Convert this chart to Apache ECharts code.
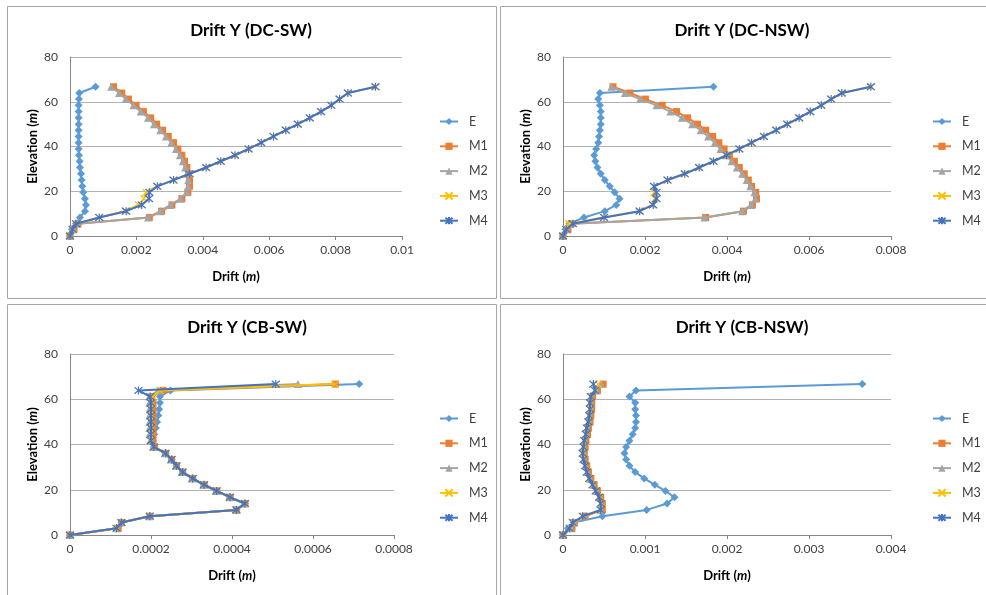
<!DOCTYPE html>
<html>
<head>
<meta charset="utf-8">
<style>
    html, body { margin: 0; padding: 0; background: #fff; }
    #echarts { width: 986px; height: 595px; }
</style>
</head>
<body>
<div id="echarts"></div>
<script src="https://cdn.jsdelivr.net/npm/echarts@6/dist/echarts.min.js"></script>
<script>
    // 楼层标高 (m)
    const elevation = [0, 3, 5.5, 8.3, 11.1, 13.9, 16.7, 19.5, 22.2, 25, 27.8, 30.6, 33.4, 36.1, 38.9, 41.7, 44.5, 47.3, 50, 52.8, 55.6, 58.4, 61.2, 63.9, 66.7];
    const seriesNames = ['E', 'M1', 'M2', 'M3', 'M4'];
    const panelTitles = ['Drift Y (DC-SW)', 'Drift Y (DC-NSW)', 'Drift Y (CB-SW)', 'Drift Y (CB-NSW)'];
    const xMax = [0.01, 0.008, 0.0008, 0.004];
    const xStep = [0.002, 0.002, 0.0002, 0.001];
    const yTicks = [0, 20, 40, 60, 80];

    // DC-SW
    const dcSwE  = [0, 0.00006, 0.00018, 0.0003, 0.00045, 0.00048, 0.00045, 0.0004, 0.00037, 0.00035, 0.00033, 0.0003, 0.00029, 0.00027, 0.00026, 0.00026, 0.00026, 0.00026, 0.00026, 0.00026, 0.00026, 0.00026, 0.00027, 0.00028, 0.00077];
    const dcSwM1 = [0, 0.00012, 0.00024, 0.00239, 0.00276, 0.00307, 0.00337, 0.00355, 0.0036, 0.0036, 0.00357, 0.00352, 0.00345, 0.00337, 0.00325, 0.00312, 0.00296, 0.00279, 0.00261, 0.00243, 0.00221, 0.00199, 0.00176, 0.00156, 0.00131];
    const dcSwM2 = [0, 0.0001, 0.00022, 0.00235, 0.00272, 0.00303, 0.00333, 0.00351, 0.00356, 0.00356, 0.00353, 0.00347, 0.0034, 0.00331, 0.00319, 0.00305, 0.00289, 0.00272, 0.00253, 0.00235, 0.00213, 0.00191, 0.00168, 0.00148, 0.00124];
    const dcSwM3 = [0, 0.00008, 0.00018, 0.00088, 0.00166, 0.00206, 0.00223, 0.00229, 0.00262, 0.00311, 0.0036, 0.0041, 0.00454, 0.00497, 0.00538, 0.00576, 0.00613, 0.0065, 0.00686, 0.00722, 0.00756, 0.00787, 0.00812, 0.00837, 0.0092];
    const dcSwM4 = [0, 0.00008, 0.00018, 0.00088, 0.00169, 0.00216, 0.00238, 0.00239, 0.00263, 0.00312, 0.0036, 0.0041, 0.00454, 0.00497, 0.00538, 0.00576, 0.00613, 0.0065, 0.00686, 0.00722, 0.00756, 0.00787, 0.00812, 0.00837, 0.0092];

    // DC-NSW
    const dcNswE  = [0, 0.00006, 0.00016, 0.00051, 0.00102, 0.0013, 0.00138, 0.00126, 0.00114, 0.00102, 0.00092, 0.00084, 0.00079, 0.00076, 0.00081, 0.00086, 0.00088, 0.0009, 0.00092, 0.00092, 0.00092, 0.0009, 0.00086, 0.0009, 0.00367];
    const dcNswM1 = [0, 0.00012, 0.0002, 0.00348, 0.0044, 0.00462, 0.00472, 0.0047, 0.0046, 0.00452, 0.00442, 0.0043, 0.00418, 0.00406, 0.00393, 0.0038, 0.00365, 0.00348, 0.00328, 0.00304, 0.00277, 0.00242, 0.00201, 0.00163, 0.00122];
    const dcNswM2 = [0, 0.0001, 0.00018, 0.00345, 0.00437, 0.00459, 0.00469, 0.00467, 0.00457, 0.00448, 0.00437, 0.00424, 0.00411, 0.00398, 0.00384, 0.0037, 0.00354, 0.00336, 0.00315, 0.0029, 0.00262, 0.00228, 0.00188, 0.00151, 0.00118];
    const dcNswM3 = [0, 0.00008, 0.00014, 0.001, 0.00186, 0.00218, 0.00224, 0.00222, 0.00222, 0.00255, 0.00297, 0.00332, 0.00367, 0.00399, 0.0043, 0.0046, 0.0049, 0.0052, 0.00547, 0.00576, 0.00603, 0.0063, 0.00654, 0.0068, 0.00751];
    const dcNswM4 = [0, 0.00008, 0.00024, 0.001, 0.00187, 0.0022, 0.00228, 0.00228, 0.00222, 0.00255, 0.00297, 0.00332, 0.00367, 0.00399, 0.0043, 0.0046, 0.0049, 0.0052, 0.00547, 0.00576, 0.00603, 0.0063, 0.00654, 0.0068, 0.00751];

    // CB-SW
    const cbSwE  = [0, 0.000115, 0.000127, 0.000197, 0.000411, 0.000432, 0.000395, 0.000362, 0.000331, 0.000303, 0.000278, 0.000263, 0.000251, 0.000236, 0.000207, 0.000205, 0.000208, 0.000212, 0.000215, 0.000218, 0.00022, 0.000222, 0.000222, 0.000248, 0.000714];
    const cbSwM1 = [0, 0.000119, 0.000127, 0.000197, 0.000411, 0.000432, 0.000395, 0.000362, 0.000331, 0.000303, 0.000278, 0.000263, 0.000251, 0.000236, 0.000209, 0.000205, 0.000205, 0.000205, 0.000205, 0.000205, 0.000205, 0.000205, 0.000202, 0.00023, 0.000655];
    const cbSwM2 = [0, 0.000115, 0.000125, 0.000195, 0.000409, 0.00043, 0.000393, 0.00036, 0.000329, 0.000301, 0.000276, 0.000261, 0.000249, 0.000234, 0.000205, 0.000198, 0.000196, 0.000196, 0.000196, 0.000196, 0.000196, 0.000196, 0.000196, 0.000218, 0.000563];
    const cbSwM3 = [0, 0.000117, 0.000127, 0.000197, 0.000411, 0.000432, 0.000395, 0.000362, 0.000331, 0.000303, 0.000278, 0.000263, 0.000251, 0.000236, 0.000207, 0.000202, 0.000202, 0.000202, 0.000202, 0.000202, 0.000202, 0.000203, 0.000204, 0.000222, 0.000655];
    const cbSwM4 = [0, 0.000115, 0.000127, 0.000197, 0.000411, 0.000432, 0.000395, 0.000362, 0.000331, 0.000303, 0.000278, 0.000263, 0.000251, 0.000236, 0.000207, 0.0002, 0.0002, 0.0002, 0.0002, 0.0002, 0.0002, 0.0002, 0.000198, 0.000169, 0.000508];

    // CB-NSW
    const cbNswE  = [0, 0.00006, 0.00013, 0.00048, 0.00102, 0.00127, 0.00136, 0.00125, 0.00112, 0.00099, 0.00088, 0.00081, 0.00077, 0.00075, 0.00077, 0.00081, 0.00085, 0.00088, 0.00089, 0.00089, 0.00088, 0.00088, 0.00081, 0.00089, 0.00365];
    const cbNswM1 = [0, 0.00011, 0.00014, 0.00027, 0.00048, 0.00048, 0.00046, 0.00042, 0.00038, 0.00034, 0.00031, 0.00029, 0.00027, 0.00026, 0.00027, 0.00028, 0.0003, 0.00031, 0.00033, 0.00034, 0.00035, 0.00035, 0.00036, 0.00042, 0.00049];
    const cbNswM2 = [0, 0.0001, 0.00014, 0.00026, 0.00047, 0.00047, 0.00045, 0.00041, 0.00037, 0.00033, 0.0003, 0.00028, 0.00026, 0.00025, 0.00026, 0.00027, 0.00029, 0.0003, 0.00032, 0.00033, 0.00034, 0.00034, 0.00035, 0.00041, 0.00046];
    const cbNswM3 = [0, 0.00009, 0.00013, 0.00025, 0.00047, 0.00047, 0.00045, 0.00041, 0.00037, 0.00033, 0.0003, 0.00028, 0.00026, 0.00025, 0.00026, 0.00027, 0.00029, 0.0003, 0.00032, 0.00033, 0.00034, 0.00034, 0.00035, 0.0004, 0.00043];
    const cbNswM4 = [0, 0.00008, 0.00012, 0.00024, 0.00046, 0.00046, 0.00044, 0.0004, 0.00036, 0.00032, 0.00029, 0.00027, 0.00025, 0.00024, 0.00025, 0.00026, 0.00028, 0.00029, 0.00031, 0.00032, 0.00033, 0.00033, 0.00034, 0.00039, 0.00037];

    const panelData = [
        [dcSwE, dcSwM1, dcSwM2, dcSwM3, dcSwM4],
        [dcNswE, dcNswM1, dcNswM2, dcNswM3, dcNswM4],
        [cbSwE, cbSwM1, cbSwM2, cbSwM3, cbSwM4],
        [cbNswE, cbNswM1, cbNswM2, cbNswM3, cbNswM4]
    ];

    // 样式
    const colors = ['#5B9BD5', '#ED7D31', '#A5A5A5', '#FFC000', '#4472C4'];
    const symbols = ['diamond', 'rect', 'triangle', 'path://M0,0L10,10M10,0L0,10', 'path://M0,0L10,10M10,0L0,10M5,-1L5,11'];
    const symbolSizes = [8, 7, 8, 7, 8];
    const font = 'Lato, "Open Sans", sans-serif';

    // 每个面板的位置
    const grids = [
        {left: 70, top: 57, width: 332, height: 179},
        {left: 563, top: 57, width: 328, height: 179},
        {left: 70, top: 354, width: 324, height: 181},
        {left: 563, top: 354, width: 328, height: 181}
    ];
    const frames = [[7.5, 6.5, 489, 292], [500.5, 6.5, 490, 292], [7.5, 304.5, 489, 300], [500.5, 304.5, 490, 300]];

    let myChart = echarts.init(document.getElementById('echarts'), null, {renderer: 'canvas'});

    let option = {
        backgroundColor: '#fff',
        animation: false,
        textStyle: {fontFamily: font},
        title: [], legend: [], grid: [], xAxis: [], yAxis: [], series: [],
        graphic: frames.map(function (f) {
            return {
                type: 'rect', silent: true,
                shape: {x: f[0], y: f[1], width: f[2], height: f[3]},
                style: {fill: 'none', stroke: '#a6a6a6', lineWidth: 1}
            };
        })
    };

    grids.forEach(function (g, p) {
        let bold = {fontFamily: font, fontSize: 13, fontWeight: 'bold', color: '#000'};
        option.grid.push(g);
        option.title.push({
            text: panelTitles[p],
            left: g.left + g.width / 2 + 10,
            top: g.top - 40,
            textAlign: 'center',
            textStyle: {fontFamily: font, fontSize: 17, fontWeight: 'bold', color: '#000'}
        });
        option.legend.push({
            data: seriesNames,
            orient: 'vertical',
            left: g.left + 364,
            top: g.top + 53,
            itemWidth: 18,
            itemHeight: 9,
            itemGap: 11.8,
            textStyle: {fontFamily: font, fontSize: 12.5, color: '#404040', padding: [0, 0, 0, 6]}
        });
        option.xAxis.push({
            type: 'value', gridIndex: p,
            min: 0, max: xMax[p], interval: xStep[p],
            name: 'Drift ({i|m})', nameLocation: 'middle', nameGap: 34,
            nameTextStyle: Object.assign({rich: {i: Object.assign({fontStyle: 'italic'}, bold)}}, bold),
            axisLine: {lineStyle: {color: '#868686', width: 1}},
            axisTick: {show: true, length: 4, lineStyle: {color: '#868686'}},
            splitLine: {show: false},
            axisLabel: {
                fontFamily: font, fontSize: 12, color: '#404040', margin: 8,
                formatter: function (v) { return v === 0 ? '0' : String(parseFloat(v.toFixed(6))); }
            }
        });
        option.yAxis.push({
            type: 'value', gridIndex: p,
            min: yTicks[0], max: yTicks[yTicks.length - 1], interval: 20,
            name: 'Elevation ({i|m})', nameLocation: 'middle', nameGap: 31, nameRotate: 90,
            nameTextStyle: Object.assign({rich: {i: Object.assign({fontStyle: 'italic'}, bold)}}, bold),
            axisLine: {show: true, lineStyle: {color: '#868686', width: 1}},
            axisTick: {show: false},
            splitLine: {show: true, lineStyle: {color: '#b3b3b3', width: 1}},
            axisLabel: {fontFamily: font, fontSize: 12, color: '#404040', margin: 12}
        });
        panelData[p].forEach(function (vals, s) {
            option.series.push({
                name: seriesNames[s],
                type: 'line',
                xAxisIndex: p, yAxisIndex: p,
                data: vals.map(function (v, i) { return [v, elevation[i]]; }),
                symbol: symbols[s],
                symbolSize: symbolSizes[s],
                showAllSymbol: true,
                lineStyle: {color: colors[s], width: 2},
                itemStyle: {color: colors[s], borderColor: colors[s], borderWidth: s >= 3 ? 1.2 : 0},
                z: 2 + s
            });
        });
    });

    myChart.setOption(option);
</script>
</body>
</html>
